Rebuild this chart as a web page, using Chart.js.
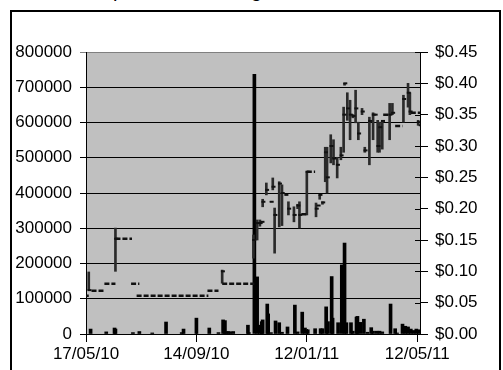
<!DOCTYPE html>
<html>
<head>
<meta charset="utf-8">
<script src="https://cdn.jsdelivr.net/npm/chart.js@4"></script>
<style>
  html, body { margin: 0; padding: 0; background: #fff; overflow: hidden; }
  #wrap { position: relative; width: 503px; height: 370px; }
  #frame { position: absolute; left: 10px; top: 10px; width: 491px; height: 400px; border: 2px solid #000; box-sizing: border-box; }
  #title { position: absolute; left: 54px; top: -20px; font-family: "Liberation Sans", Arial, sans-serif; font-size: 20px; line-height: 20px; white-space: nowrap; }
  canvas { position: absolute; left: 0; top: 0; }
</style>
</head>
<body>
<div id="wrap">
  <div id="frame"></div>
  <div id="title">Share price and trading volume</div>
  <canvas id="chart" width="503" height="370"></canvas>
</div>
<script>
// x values are days counted from 17/05/10
const tickDays = [0, 120, 240, 360];
const tickLabels = ['17/05/10', '14/09/10', '12/01/11', '12/05/11'];

// daily volume (left axis)
const volDays = [5, 22, 31, 32, 51, 58, 72, 87, 104, 106, 120, 134, 144, 149, 151, 153, 155, 157, 160, 176, 177,
  183, 186, 189, 191, 192, 197, 198, 201, 206, 210, 213, 219, 227, 230, 235, 238, 241, 249, 255, 257, 261, 263,
  267, 268, 274, 278, 281, 283, 288, 290, 294, 295, 298, 302, 306, 310, 312, 316, 319, 322, 331, 336, 338, 344,
  347, 350, 353, 356, 359, 362];
const volumes = [14000, 6000, 17000, 14000, 4000, 7000, 3000, 34000, 4000, 14000, 45000, 17000, 4000, 40000, 38000,
  7000, 7000, 6000, 7000, 25000, 4000,
  737000, 162000, 25000, 35000, 40000, 85000, 57000, 4000, 37000, 32000, 5000, 20000, 82000, 6000, 62000, 17000,
  12000, 15000, 15000, 15000, 77000, 35000,
  163000, 45000, 32000, 196000, 258000, 32000, 32000, 8000, 48000, 50000, 33000, 42000, 5000, 18000, 8000, 8000,
  8000, 6000, 85000, 15000, 3000, 28000,
  22000, 20000, 14000, 10000, 14000, 12000];

// daily high / low / close (right axis)
const priceDays = [3, 32, 148, 182, 186, 189, 191, 192, 196, 201, 203, 205, 210, 213, 217, 220, 226, 230, 232, 240,
  250, 252, 254, 257, 260, 262, 266, 269, 273, 277, 280, 281, 284, 287, 290, 293, 296, 300, 303, 308, 312, 314,
  317, 319, 322, 330, 333, 345, 350, 352, 361, 363];
const highs = [0.099, 0.169, 0.102, 0.158, 0.182, 0.182, 0.179, 0.215, 0.241, 0.211, 0.249, 0.201, 0.243, 0.238,
  0.222, 0.211, 0.203, 0.207, 0.211, 0.259,
  0.209, 0.205, 0.222, 0.211, 0.298, 0.298, 0.318, 0.310, 0.282, 0.298, 0.362, 0.400, 0.385, 0.373, 0.350, 0.389,
  0.338, 0.360, 0.298, 0.346, 0.353, 0.350,
  0.341, 0.338, 0.341, 0.368, 0.368, 0.381, 0.400, 0.385, 0.341, 0.333];
const lows = [0.070, 0.100, 0.081, 0.121, 0.150, 0.172, 0.179, 0.203, 0.222, 0.211, 0.230, 0.129, 0.171, 0.173,
  0.222, 0.190, 0.179, 0.200, 0.169, 0.190,
  0.187, 0.205, 0.215, 0.207, 0.243, 0.225, 0.273, 0.270, 0.249, 0.278, 0.290, 0.397, 0.341, 0.310, 0.345, 0.337,
  0.310, 0.350, 0.290, 0.270, 0.310, 0.350,
  0.290, 0.290, 0.295, 0.310, 0.350, 0.338, 0.362, 0.350, 0.333, 0.333];
const closes = [0.070, 0.152, 0.100, 0.150, 0.177, 0.177, 0.179, 0.211, 0.230, 0.211, 0.235, 0.190, 0.240, 0.225,
  0.222, 0.200, 0.190, 0.205, 0.190, 0.259,
  0.200, 0.205, 0.222, 0.210, 0.290, 0.250, 0.300, 0.280, 0.270, 0.285, 0.350, 0.400, 0.360, 0.350, 0.348, 0.360,
  0.320, 0.355, 0.293, 0.340, 0.350, 0.350,
  0.300, 0.330, 0.340, 0.350, 0.353, 0.375, 0.385, 0.355, 0.338, 0.333];

// stretches where the close stayed put (drawn as dashed close marks)
const runStart = [0, 6, 20, 32, 49, 55, 132, 148, 234, 240, 323, 336, 353];
const runEnd = [3, 19, 32, 50, 58, 133, 144, 183, 240, 249, 330, 344, 363];
const runPrice = [0.061, 0.069, 0.080, 0.152, 0.080, 0.061, 0.069, 0.080, 0.191, 0.259, 0.350, 0.332, 0.353];

const font = { family: '"Liberation Sans", Arial, sans-serif', size: 17 };

const volData = volDays.map((d, i) => ({ x: d, y: volumes[i] }));
const hlData = priceDays.map((d, i) => ({ x: d, y: [lows[i], highs[i]] }));
const closeData = priceDays.map((d, i) => ({ x: d + 0.8, y: closes[i] }));
const runData = [];
runStart.forEach(function (s, i) {
    runData.push({ x: s, y: runPrice[i] });
    runData.push({ x: runEnd[i], y: runPrice[i] });
    runData.push({ x: runEnd[i], y: null });
});

const plotBg = {
    id: 'plotBg',
    beforeDraw(chart) {
        const a = chart.chartArea;
        const c = chart.ctx;
        c.save();
        c.fillStyle = '#C0C0C0';
        c.fillRect(a.left, a.top, a.right - a.left, a.bottom - a.top);
        c.restore();
    }
};

// Excel style "cross" tick marks: the inner half
const crossTicks = {
    id: 'crossTicks',
    afterDraw(chart) {
        const c = chart.ctx;
        const a = chart.chartArea;
        const y2 = chart.scales.y2;
        const x = chart.scales.x;
        c.save();
        c.strokeStyle = '#000';
        c.lineWidth = 1;
        c.beginPath();
        y2.ticks.forEach(function (t) {
            const py = Math.round(y2.getPixelForValue(t.value)) + 0.5;
            c.moveTo(a.right - 5, py);
            c.lineTo(a.right, py);
        });
        x.ticks.forEach(function (t) {
            const px = Math.round(x.getPixelForValue(t.value)) + 0.5;
            c.moveTo(px, a.bottom - 5);
            c.lineTo(px, a.bottom);
        });
        c.stroke();
        c.restore();
    }
};

new Chart(document.getElementById('chart'), {
    data: {
        datasets: [
            {
                type: 'line',
                data: runData,
                yAxisID: 'y2',
                borderColor: '#111',
                borderWidth: 2.5,
                borderDash: [5, 2],
                pointRadius: 0,
                spanGaps: false,
                order: 1
            },
            {
                type: 'scatter',
                data: closeData,
                yAxisID: 'y2',
                pointStyle: 'line',
                radius: 2,
                borderWidth: 2,
                borderColor: '#111',
                order: 0
            },
            {
                type: 'bar',
                data: hlData,
                yAxisID: 'y2',
                backgroundColor: '#2a2a2a',
                barThickness: 2,
                grouped: false,
                order: 2
            },
            {
                type: 'bar',
                data: volData,
                yAxisID: 'y',
                backgroundColor: '#000',
                barThickness: 3,
                grouped: false,
                order: 3
            }
        ]
    },
    options: {
        responsive: false,
        animation: false,
        layout: { padding: { top: 52, left: 0, right: 0, bottom: 0 } },
        plugins: { legend: { display: false }, tooltip: { enabled: false } },
        scales: {
            x: {
                type: 'linear',
                min: 0,
                max: 363,
                offset: false,
                afterBuildTicks: function (scale) {
                    scale.ticks = tickDays.map(v => ({ value: v }));
                },
                afterFit: function (scale) { scale.height = 36; },
                ticks: {
                    autoSkip: false,
                    maxRotation: 0,
                    color: '#000',
                    font: font,
                    padding: 2,
                    callback: function (v) { return tickLabels[tickDays.indexOf(v)]; }
                },
                grid: { offset: false, drawOnChartArea: false, color: '#000', tickLength: 8 },
                border: { color: '#000', width: 1 }
            },
            y: {
                position: 'left',
                min: 0,
                max: 800000,
                afterFit: function (scale) { scale.width = 86; },
                ticks: { stepSize: 100000, color: '#000', font: font, padding: 8, callback: v => String(v) },
                grid: {
                    color: ctx => ctx.tick && ctx.tick.value === 800000 ? '#808080' : '#000',
                    tickLength: 6
                },
                border: { color: '#000', width: 1 }
            },
            y2: {
                position: 'right',
                min: 0,
                max: 0.45,
                afterFit: function (scale) { scale.width = 83; },
                ticks: {
                    stepSize: 0.05,
                    color: '#000',
                    font: font,
                    padding: 7,
                    callback: v => '$' + v.toFixed(2)
                },
                grid: { drawOnChartArea: false, color: '#000', tickLength: 8 },
                border: { color: '#000', width: 1 }
            }
        }
    },
    plugins: [plotBg, crossTicks]
});
</script>
</body>
</html>
